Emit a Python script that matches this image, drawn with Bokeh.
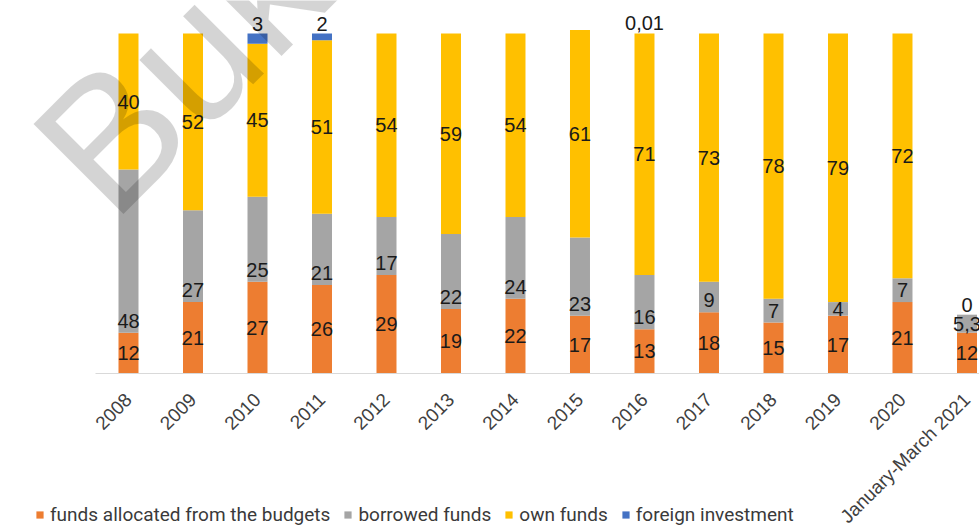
import math
import numpy as np
from bokeh.plotting import figure
from bokeh.models import (ColumnDataSource, Legend, LegendItem, Label,
                          FixedTicker, Range1d)
from bokeh.embed import file_html
from bokeh.resources import INLINE
from bokeh.core.properties import value

# ---------------- data ----------------
periods = ["2008", "2009", "2010", "2011", "2012", "2013", "2014", "2015",
           "2016", "2017", "2018", "2019", "2020", "January-March 2021"]
budgets = [12, 21, 27, 26, 29, 19, 22, 17, 13, 18, 15, 17, 21, 12]
borrowed = [48, 27, 25, 21, 17, 22, 24, 23, 16, 9, 7, 4, 7, 5.3]
own = [40, 52, 45, 51, 54, 59, 54, 61, 71, 73, 78, 79, 72, None]
foreign = [None, None, 3, 2, None, None, None, None, 0.01, None, None, None, None, 0]

series_names = ["funds allocated from the budgets", "borrowed funds",
                "own funds", "foreign investment"]
series_values = [budgets, borrowed, own, foreign]
colors = ["#ED7D31", "#A5A5A5", "#FFC000", "#4472C4"]
watermark = "Buko"

# ---------------- figure ----------------
W, H = 979, 528
p = figure(width=W, height=H, output_backend="svg", toolbar_location=None,
           x_range=Range1d(-1.9845, 13.194), y_range=Range1d(-45.59, 109.71),
           y_axis_location=None, min_border_left=0, min_border_right=0,
           min_border_top=0, min_border_bottom=0)
p.outline_line_color = None
p.xgrid.visible = False
p.ygrid.visible = False
p.background_fill_color = "white"

ax = p.xaxis[0]
ax.fixed_location = 0
ax.bounds = (-0.512, 14)
ax.ticker = FixedTicker(ticks=list(range(len(periods))))
ax.major_label_overrides = {i: lbl for i, lbl in enumerate(periods)}
ax.major_label_orientation = math.pi / 4
ax.major_label_text_font = "Liberation Sans"
ax.major_label_text_font_size = "19px"
ax.major_label_text_color = "#404040"
ax.major_label_standoff = 23
ax.axis_line_color = "#D9D9D9"
ax.axis_line_width = 1
ax.major_tick_line_color = None
ax.minor_tick_line_color = None
ax.major_tick_out = 0
ax.major_tick_in = 0


def fmt(v):
    return ("%g" % v).replace(".", ",")


n = len(periods)
base = np.zeros(n)
renderers = []
BAR_W = 0.31
for k, (name, vals, col) in enumerate(zip(series_names, series_values, colors)):
    xs, bots, tops, lab_y, lab_t = [], [], [], [], []
    for i, v in enumerate(vals):
        if v is None:
            continue
        b = base[i]
        t = b + v
        xs.append(i)
        bots.append(b)
        tops.append(t)
        lab_t.append(fmt(v))
        if k == 1:
            lab_y.append(b + min(v / 2.0, 3.5))
        elif k == 3:
            lab_y.append(t)
        else:
            lab_y.append((b + t) / 2.0)
    src = ColumnDataSource(dict(x=xs, bottom=bots, top=tops, ly=lab_y, lt=lab_t))
    r = p.vbar(x="x", bottom="bottom", top="top", width=BAR_W, source=src,
               fill_color=col, line_color=None)
    renderers.append(r)
    p.text(x="x", y="ly", text="lt", source=src, text_align="center",
           text_baseline="middle", text_font=value("Liberation Sans"),
           text_font_size="20px", text_color="#1a1a1a",
           y_offset=(-10 if k == 3 else 0))
    for i, v in enumerate(vals):
        if v is not None:
            base[i] += v

# watermark
wm = Label(x=216, y=498, x_units="screen", y_units="screen", text=watermark,
           angle=45, angle_units="deg", text_font="Liberation Sans",
           text_font_size="185px", text_color="black", text_alpha=0.17,
           text_baseline="middle", text_align="center")
p.add_layout(wm)

legend = Legend(items=[LegendItem(label=nm, renderers=[r])
                       for nm, r in zip(series_names, renderers)],
                orientation="horizontal", location=(35, 2))
legend.border_line_color = None
legend.background_fill_alpha = 0
legend.padding = 0
legend.margin = 0
legend.spacing = 13
legend.label_standoff = 6
legend.glyph_width = 9
legend.glyph_height = 9
legend.label_text_font = "Roboto"
legend.label_text_font_size = "19px"
legend.label_text_color = "#3a3a3a"
p.add_layout(legend)

open("out.html", "w").write(file_html(p, INLINE))
